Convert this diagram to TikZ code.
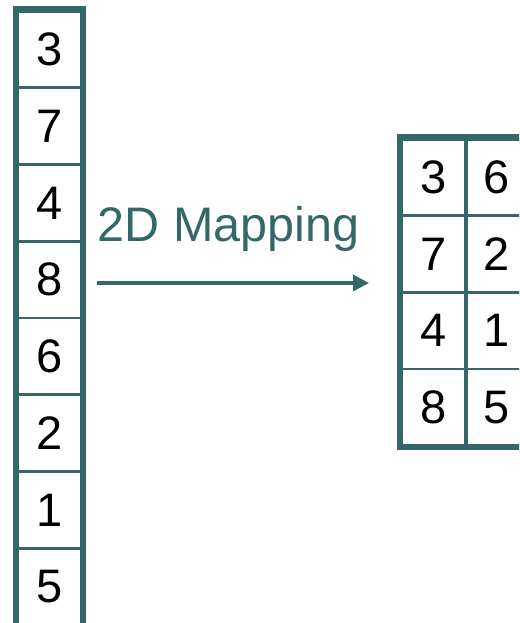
\documentclass[tikz,border=0pt]{standalone}
\usepackage{fontspec}
\setmainfont{Liberation Sans}
\usetikzlibrary{arrows.meta}
\definecolor{frameteal}{RGB}{52,104,103}
\begin{document}
\begin{tikzpicture}[x=1pt,y=-1pt,
  cell/.style={draw=frameteal, line width=2.7pt, fill=white,
    minimum width=64pt, minimum height=76.75pt, inner sep=0pt,
    font=\fontsize{47}{56}\selectfont, text=black},
  gcell/.style={cell, minimum width=63.5pt, minimum height=76.7pt},
  frame/.style={draw=frameteal, line width=6.5pt},
  label/.style={font=\fontsize{48.5}{58}\selectfont, text=frameteal, inner sep=0pt},
  maparrow/.style={draw=frameteal, line width=3.5pt,
    -{Triangle[length=16pt,width=16pt]}}]
\useasboundingbox (0,0) rectangle (519,623);
\clip (0,0) rectangle (519,623);
% one-dimensional column of values
\foreach \v [count=\i] in {3,7,4,8,6,2,1,5}{
  \node[cell] (c\i) at (49.5,{11+76.75*(\i-0.5)}) {\v};
}
\draw[frame] (c1.north west) rectangle (c8.south east);
% mapped 4x2 grid
\foreach \a/\b [count=\r] in {3/6,7/2,4/1,8/5}{
  \node[gcell] (g\r a) at (433.25,{139+76.7*(\r-0.5)}) {\a};
  \node[gcell] (g\r b) at (496.75,{139+76.7*(\r-0.5)}) {\b};
}
\draw[frameteal, line width=4pt] (g1a.north east) -- (g4a.south east);
\draw[frame] (g1a.north west) rectangle (g4b.south east);
% mapping arrow and its label
\node[label, anchor=base west] (lbl) at (97.5,241.5) {2D Mapping};
\coordinate (arrS) at (96.5,283);
\coordinate (arrE) at (369,283);
\draw[maparrow] (arrS) -- (arrE);
\end{tikzpicture}
\end{document}
